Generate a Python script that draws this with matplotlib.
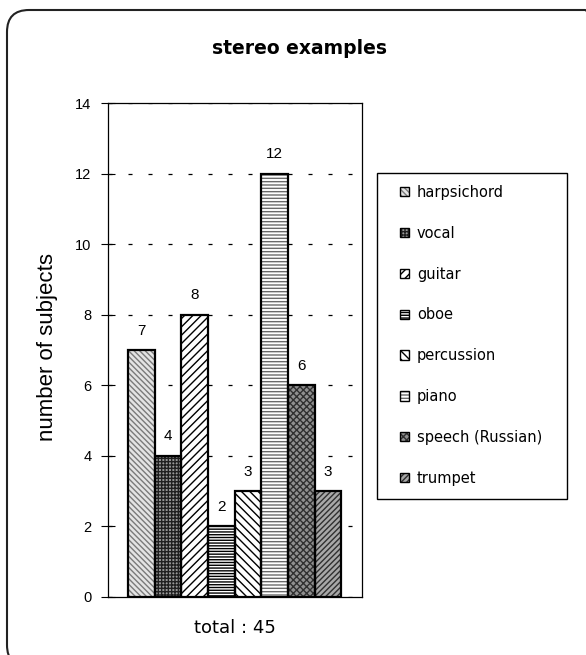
import matplotlib
matplotlib.use("Agg")
import matplotlib.pyplot as plt
import numpy as np
from matplotlib.patches import FancyBboxPatch, Rectangle, Patch
from matplotlib.transforms import IdentityTransform
from matplotlib.legend_handler import HandlerTuple

# ---- data ----
categories = ["harpsichord", "vocal", "guitar", "oboe", "percussion",
              "piano", "speech (Russian)", "trumpet"]
values = [7, 4, 8, 2, 3, 12, 6, 3]
yticks = [0, 2, 4, 6, 8, 10, 12, 14]
title = "stereo examples"
ylabel = "number of subjects"
xlabel = "total : 45"

# ---- styles (fill, hatch, hatch colour) ----
styles = [
    ("#e4e4e4", "\\\\\\\\\\\\", "#7a7a7a"),
    ("#9a9a9a", "+++++", "#202020"),
    ("#ffffff", "////", "#000000"),
    ("#ffffff", "------", "#000000"),
    ("#ffffff", "\\\\\\\\", "#000000"),
    ("#ffffff", "-----", "#6a6a6a"),
    ("#909090", "xxxxx", "#303030"),
    ("#a8a8a8", "//////", "#303030"),
]

plt.rcParams["lines.scale_dashes"] = False
plt.rcParams["hatch.linewidth"] = 1.0

W, H = 586, 655
fig = plt.figure(figsize=(W / 100, H / 100), dpi=100)
fig.patch.set_facecolor("white")

# rounded outer frame (extends past right/bottom edges)
frame = FancyBboxPatch((7, -12), 600, 657, boxstyle="round,pad=0,rounding_size=22",
                       transform=IdentityTransform(), fill=False,
                       edgecolor="#222222", linewidth=1.5)
fig.add_artist(frame)

ax = fig.add_axes([107.7 / W, 1 - 597 / H, (361.7 - 107.7) / W, (597 - 103.3) / H])

x = np.arange(len(values))
handles = []
for i, (fc, hatch, hc) in enumerate(styles):
    ax.bar(x[i], values[i], width=1, color=fc, hatch=hatch, edgecolor=hc,
           linewidth=0, zorder=2)
    handles.append((Patch(facecolor=fc, hatch=hatch, edgecolor=hc, linewidth=0),
                    Patch(fill=False, edgecolor="black", linewidth=1.0)))
border = ax.bar(x, values, width=1, fill=False, edgecolor="black",
                linewidth=1.6, zorder=3)
ax.bar_label(border, padding=9, fontsize=11, fontfamily="Liberation Sans")

ax.set_xlim(-1.257, 8.257)
ax.set_ylim(0, 14)
ax.set_yticks(yticks)
ax.set_xticks([])
ax.tick_params(axis="y", direction="inout", length=9.4, width=0.8,
               labelsize=10.5, pad=7)
for lab in ax.get_yticklabels():
    lab.set_fontfamily("Liberation Sans")
for sp in ax.spines.values():
    sp.set_color("black")
    sp.set_linewidth(0.9)
ax.yaxis.grid(True, color="black", linestyle=(0, (2.9, 11.5)), linewidth=0.9)
ax.set_axisbelow(True)

ax.set_ylabel(ylabel, fontsize=16, fontfamily="Liberation Sans", va="center")
ax.yaxis.set_label_coords(-0.236, 0.506)
ax.set_xlabel(xlabel, fontsize=13, fontfamily="DejaVu Sans", va="center")
ax.xaxis.set_label_coords(0.5, (597 - 628) / (597 - 103.3))

fig.text(300 / W, 1 - 48 / H, title, ha="center", va="center",
         fontsize=13.5, fontweight="bold", fontfamily="DejaVu Sans")

# legend with separate frame
leg_frame = Rectangle((377, H - 499), 190, 326, transform=IdentityTransform(),
                      fill=False, edgecolor="black", linewidth=1.0)
fig.add_artist(leg_frame)
ax.legend(handles, categories, loc="upper left",
          bbox_to_anchor=(400 / W, 1 - 185 / H), bbox_transform=fig.transFigure,
          frameon=False, borderpad=0, borderaxespad=0,
          handlelength=0.6, handleheight=0.6, handletextpad=0.55,
          labelspacing=1.77, prop={"family": "DejaVu Sans", "size": 10.5},
          handler_map={tuple: HandlerTuple(ndivide=1, pad=0)})

fig.savefig("out.png", dpi=100)
